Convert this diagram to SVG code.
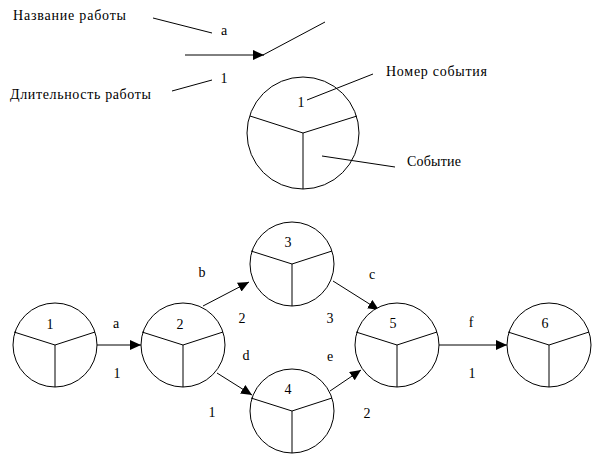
<svg xmlns="http://www.w3.org/2000/svg" width="592" height="455" viewBox="0 0 592 455">
<defs>
<marker id="ah" markerWidth="12" markerHeight="10" refX="11" refY="5" orient="auto" markerUnits="userSpaceOnUse">
<path d="M0,0 L11,5 L0,10 Z" fill="#000"/>
</marker>
<style>
text{font-family:"Liberation Serif","Times New Roman",serif;font-size:14px;fill:#000}
.m{text-anchor:middle}
circle{fill:#fff;stroke:#000;stroke-width:1}
line,path.s{stroke:#000;stroke-width:1;fill:none}
.a{marker-end:url(#ah)}
</style>
</defs>
<rect width="592" height="455" fill="#fff"/>
<g id="legend">
<text x="13" y="20" textLength="113" lengthAdjust="spacing">Название работы</text>
<line x1="153" y1="18" x2="212" y2="33"/>
<text class="m" x="224" y="35">a</text>
<line class="a" x1="185" y1="55" x2="264" y2="55"/>
<line x1="263" y1="55" x2="325" y2="22"/>
<text class="m" x="224" y="83">1</text>
<line x1="172" y1="91" x2="212" y2="80"/>
<text x="10" y="99" textLength="141" lengthAdjust="spacing">Длительность работы</text>
</g>
<g id="legend-event">
<circle cx="303" cy="133" r="56"/>
<path class="s" d="M250,116 L303,133 L357,116 M303,133 V189"/>
<text class="m" x="301" y="107">1</text>
<line x1="307" y1="100" x2="373" y2="74"/>
<text x="386" y="76" textLength="101" lengthAdjust="spacing">Номер события</text>
<line x1="322" y1="156" x2="395" y2="167"/>
<text x="407" y="166" textLength="54" lengthAdjust="spacing">Событие</text>
</g>
<g id="connectors">
<line class="a" x1="96" y1="345" x2="141" y2="345"/>
<line class="a" x1="203" y1="306" x2="249" y2="282"/>
<line class="a" x1="217" y1="373" x2="252" y2="395"/>
<line class="a" x1="333" y1="281" x2="379" y2="310"/>
<line class="a" x1="330" y1="391" x2="361" y2="370"/>
<line class="a" x1="439" y1="345" x2="507" y2="345"/>
<text class="m" x="116" y="328">a</text>
<text class="m" x="117" y="378">1</text>
<text class="m" x="202" y="277">b</text>
<text class="m" x="242" y="323">2</text>
<text class="m" x="372" y="279">c</text>
<text class="m" x="330" y="323">3</text>
<text class="m" x="246" y="360">d</text>
<text class="m" x="212" y="417">1</text>
<text class="m" x="330" y="361">e</text>
<text class="m" x="367" y="418">2</text>
<text class="m" x="471" y="327">f</text>
<text class="m" x="472" y="378">1</text>
</g>
<g id="n1"><circle cx="55" cy="345" r="42"/><path class="s" d="M14,332 L55,345 L95,332 M55,345 V387"/><text class="m" x="50" y="329">1</text></g>
<g id="n2"><circle cx="183" cy="345" r="42"/><path class="s" d="M142,332 L183,345 L223,332 M183,345 V387"/><text class="m" x="180" y="329">2</text></g>
<g id="n3"><circle cx="292" cy="264" r="42"/><path class="s" d="M251,251 L292,264 L332,251 M292,264 V306"/><text class="m" x="288" y="247">3</text></g>
<g id="n4"><circle cx="292" cy="411" r="42"/><path class="s" d="M251,398 L292,411 L332,398 M292,411 V453"/><text class="m" x="288" y="394">4</text></g>
<g id="n5"><circle cx="397" cy="345" r="42"/><path class="s" d="M356,332 L397,345 L437,332 M397,345 V387"/><text class="m" x="393" y="328">5</text></g>
<g id="n6"><circle cx="549" cy="345" r="42"/><path class="s" d="M508,332 L549,345 L589,332 M549,345 V387"/><text class="m" x="545" y="328">6</text></g>
</svg>
